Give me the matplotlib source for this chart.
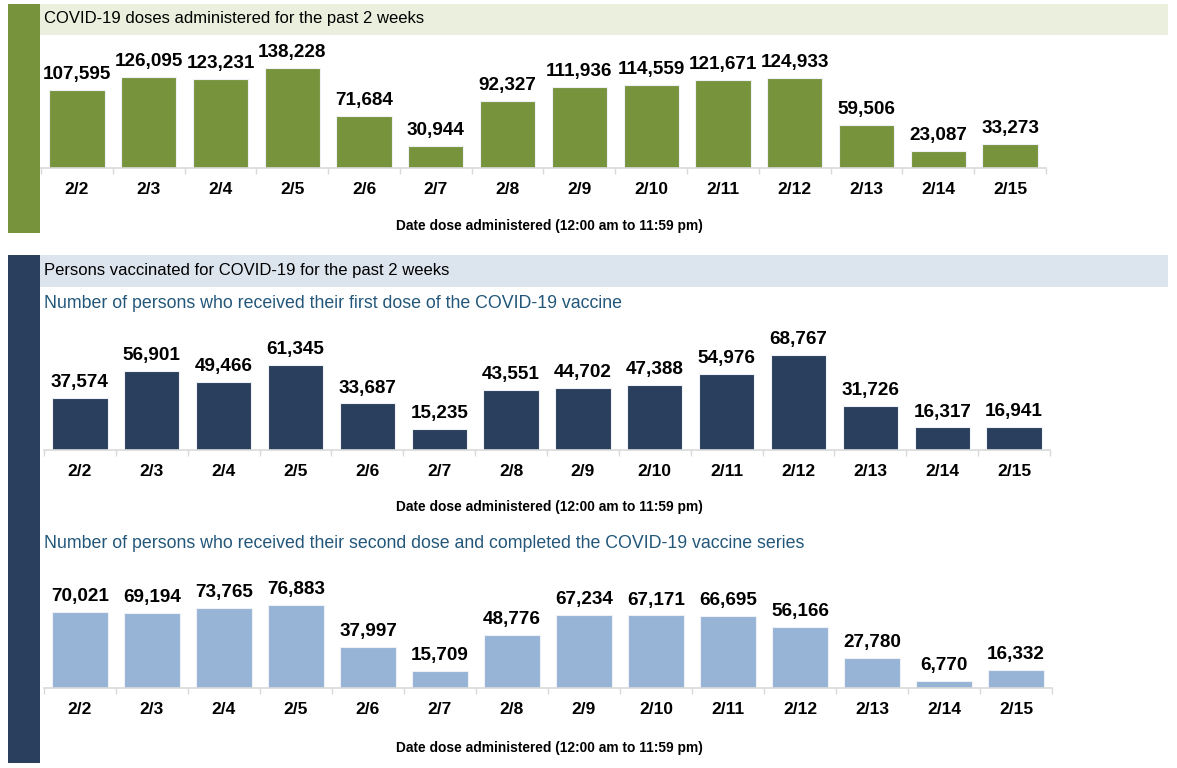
import numpy as np
import matplotlib
matplotlib.use("Agg")
import matplotlib.pyplot as plt
from matplotlib.patches import Rectangle

plt.rcParams['font.family'] = ['Liberation Sans', 'DejaVu Sans']

# ── data ────────────────────────────────────────────────────────────────────
dates = ["2/2", "2/3", "2/4", "2/5", "2/6", "2/7", "2/8",
         "2/9", "2/10", "2/11", "2/12", "2/13", "2/14", "2/15"]
doses_total = [107595, 126095, 123231, 138228, 71684, 30944, 92327,
               111936, 114559, 121671, 124933, 59506, 23087, 33273]
first_dose = [37574, 56901, 49466, 61345, 33687, 15235, 43551,
              44702, 47388, 54976, 68767, 31726, 16317, 16941]
second_dose = [70021, 69194, 73765, 76883, 37997, 15709, 48776,
               67234, 67171, 66695, 56166, 27780, 6770, 16332]

header1 = "COVID-19 doses administered for the past 2 weeks"
header2 = "Persons vaccinated for COVID-19 for the past 2 weeks"
sub_first = "Number of persons who received their first dose of the COVID-19 vaccine"
sub_second = "Number of persons who received their second dose and completed the COVID-19 vaccine series"
xlab = "Date dose administered (12:00 am to 11:59 pm)"

GREEN = "#77933c"
NAVY = "#2a3f5e"
LIGHTBLUE = "#97b3d6"
GREEN_BAND = "#ebf0de"
BLUE_BAND = "#dce4ee"
SUB_COLOR = "#22577a"

W, H = 1177, 768
fig = plt.figure(figsize=(W / 100, H / 100), dpi=100)


def px_rect(x0, y0, x1, y1, color):
    # rectangle in pixel coords (origin top-left)
    fig.patches.append(Rectangle((x0 / W, 1 - y1 / H), (x1 - x0) / W, (y1 - y0) / H,
                                 transform=fig.transFigure, facecolor=color,
                                 edgecolor="none", zorder=0))


def px_text(x, y, s, **kw):
    fig.text(x / W, 1 - y / H, s, **kw)


def bar_panel(x0, x1, y_base, px_top, values, color):
    # axes spanning x0..x1 px, baseline at y_base px; max value reaches px_top px
    ax_h = 135
    ax = fig.add_axes([x0 / W, 1 - y_base / H, (x1 - x0) / W, ax_h / H])
    x = np.arange(len(values))
    bars = ax.bar(x, values, width=0.77, color=color, edgecolor="#eef1f5", linewidth=0.8)
    ax.bar_label(bars, labels=[f"{v:,}" for v in values], padding=5,
                 fontsize=13.6, fontweight="bold", color="black")
    ax.set_xlim(-0.5, len(values) - 0.5)
    ax.set_ylim(0, max(values) * ax_h / px_top)
    for s in ["top", "left", "right"]:
        ax.spines[s].set_visible(False)
    ax.spines["bottom"].set_color("#d9d9d9")
    ax.spines["bottom"].set_linewidth(1.2)
    ax.set_yticks([])
    ax.set_xticks(x)
    ax.set_xticklabels(dates, fontsize=12.5, fontweight="bold")
    ax.tick_params(axis="x", which="major", length=0, pad=10)
    ax.set_xticks(np.arange(-0.5, len(values)), minor=True)
    ax.tick_params(axis="x", which="minor", length=4, color="#d9d9d9", width=1)
    ax.patch.set_alpha(0)
    return ax


# ── panel 1: total doses ────────────────────────────────────────────────────
px_rect(8, 4, 40, 233, GREEN)
px_rect(40, 4, 1168, 35, GREEN_BAND)
px_text(44, 19, header1, fontsize=12, va="center", ha="left")
bar_panel(41, 1046, 168, 100, doses_total, GREEN)
px_text(549, 226, xlab, fontsize=9.9, fontweight="bold", ha="center", va="center")

# ── panel 2: persons vaccinated ─────────────────────────────────────────────
px_rect(8, 255, 40, 763, NAVY)
px_rect(40, 255, 1168, 287, BLUE_BAND)
px_text(44, 271, header2, fontsize=12, va="center", ha="left")

px_text(44, 304, sub_first, fontsize=12.8, color=SUB_COLOR, va="center", ha="left")
bar_panel(44, 1050, 450, 95, first_dose, NAVY)
px_text(549, 507, xlab, fontsize=9.9, fontweight="bold", ha="center", va="center")

px_text(44, 543, sub_second, fontsize=12.8, color=SUB_COLOR, va="center", ha="left")
bar_panel(44, 1052, 688, 83, second_dose, LIGHTBLUE)
px_text(549, 748, xlab, fontsize=9.9, fontweight="bold", ha="center", va="center")

fig.savefig("out.png", dpi=100)
